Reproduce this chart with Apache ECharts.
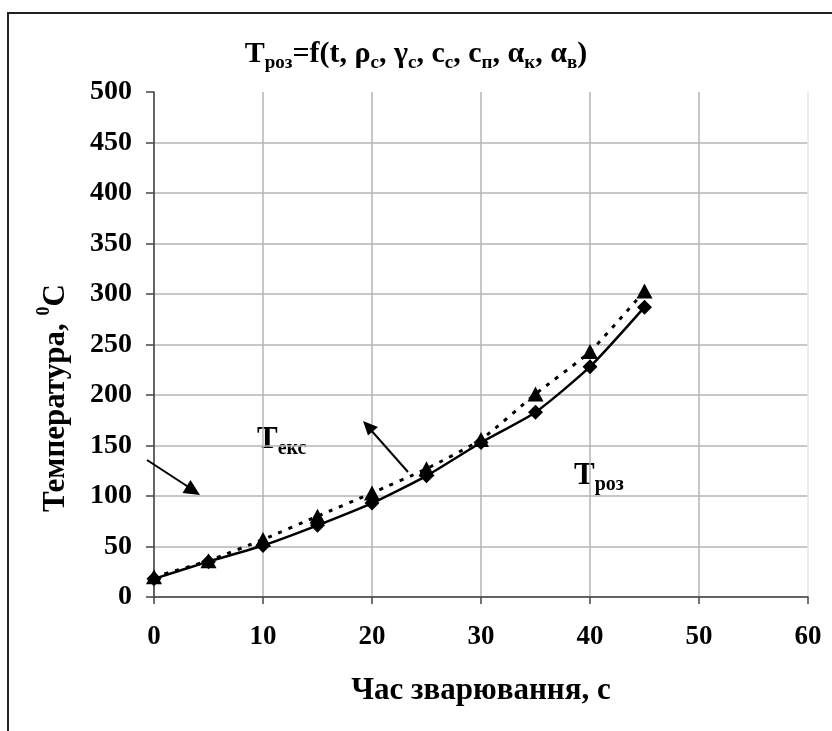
<!DOCTYPE html>
<html>
<head>
<meta charset="utf-8">
<script src="https://cdn.jsdelivr.net/npm/echarts@6/dist/echarts.min.js"></script>
<style>html,body{margin:0;padding:0;background:#fff;}#c{width:832px;height:731px;}</style>
</head>
<body>
<div id="c"></div>
<script>
const timeValues = [0, 5, 10, 15, 20, 25, 30, 35, 40, 45];
const tRoz = [18, 35, 51, 71, 93, 120, 153, 183, 228, 287];
const tEks = [20, 36, 57, 80, 103, 127, 156, 201, 243, 303];
const xTicks = [0, 10, 20, 30, 40, 50, 60];
const yTicks = [0, 50, 100, 150, 200, 250, 300, 350, 400, 450, 500];

const FONT = '"Liberation Serif", "Times New Roman", serif';
const chart = echarts.init(document.getElementById('c'));

function pairs(xs, ys) { return xs.map((x, i) => [x, ys[i]]); }

const subMain = { fontFamily: FONT, fontWeight: 'bold', fontSize: 30, color: '#000', verticalAlign: 'bottom', lineHeight: 34, padding: [0, 0, 4, 0] };
const subSmall = { fontFamily: FONT, fontWeight: 'bold', fontSize: 19, color: '#000', verticalAlign: 'bottom', lineHeight: 34 };

const option = {
  backgroundColor: '#fff',
  animation: false,
  title: {
    left: 'center',
    top: 34,
    text: '{m|T}{s|роз}{m|=f(t, ρ}{s|с}{m|, γ}{s|с}{m|, с}{s|с}{m|, с}{s|п}{m|, α}{s|к}{m|, α}{s|в}{m|)}',
    textStyle: { rich: { m: subMain, s: subSmall } }
  },
  grid: { left: 154, right: 24, top: 92, bottom: 134 },
  xAxis: {
    type: 'value', min: 0, max: 60, interval: 10,
    axisLine: { show: true, onZero: false, lineStyle: { color: '#444', width: 1.5 } },
    axisTick: { show: true, length: 7, lineStyle: { color: '#444', width: 1.5 } },
    axisLabel: { fontFamily: FONT, fontWeight: 'bold', fontSize: 27, color: '#000', margin: 27,
      formatter: v => xTicks.includes(v) ? String(v) : '' },
    splitLine: { show: true, lineStyle: { color: ['#b4b4b4','#b4b4b4','#b4b4b4','#b4b4b4','#b4b4b4','#b4b4b4','#e6e6e6'], width: 1.5 } },
    name: 'Час зварювання, с',
    nameLocation: 'middle',
    nameGap: 78,
    nameTextStyle: { fontFamily: FONT, fontWeight: 'bold', fontSize: 31, color: '#000' }
  },
  yAxis: {
    type: 'value', min: 0, max: 500, interval: 50,
    axisLine: { show: true, lineStyle: { color: '#444', width: 1.5 } },
    axisTick: { show: true, length: 8, lineStyle: { color: '#444', width: 1.5 } },
    axisLabel: { fontFamily: FONT, fontWeight: 'bold', fontSize: 28, color: '#000', margin: 22,
      formatter: v => yTicks.includes(v) ? String(v) : '' },
    splitLine: { show: true, showMaxLine: false, lineStyle: { color: '#b4b4b4', width: 1.5 } }
  },
  series: [
    {
      name: 'Tекс', type: 'line', data: pairs(timeValues, tEks),
      smooth: 0.2, symbol: 'triangle', symbolSize: [16, 15],
      itemStyle: { color: '#000' },
      lineStyle: { color: '#000', width: 3, type: [4, 7] },
      z: 3
    },
    {
      name: 'Tроз', type: 'line', data: pairs(timeValues, tRoz),
      smooth: 0.2, symbol: 'diamond', symbolSize: 15,
      itemStyle: { color: '#000' },
      lineStyle: { color: '#000', width: 2.5 },
      z: 4
    }
  ],
  graphic: [
    { type: 'rect', shape: { x: 8, y: 13, width: 1000, height: 1000 }, style: { fill: 'none', stroke: '#222', lineWidth: 2 }, z: 100 },
    {
      type: 'text', x: 53, y: 398, rotation: Math.PI / 2,
      style: {
        text: '{m|Температура, }{p|0}{m|C}',
        align: 'center', verticalAlign: 'middle',
        rich: {
          m: { fontFamily: FONT, fontWeight: 'bold', fontSize: 31, fill: '#000', verticalAlign: 'bottom', lineHeight: 36 },
          p: { fontFamily: FONT, fontWeight: 'bold', fontSize: 18, fill: '#000', verticalAlign: 'top', lineHeight: 36 }
        }
      }
    },
    {
      type: 'text', x: 257, y: 425,
      style: {
        text: '{m|T}{s|екс}',
        rich: {
          m: { fontFamily: FONT, fontWeight: 'bold', fontSize: 31, fill: '#000', verticalAlign: 'bottom', lineHeight: 34, padding: [0, 0, 4, 0] },
          s: { fontFamily: FONT, fontWeight: 'bold', fontSize: 20, fill: '#000', verticalAlign: 'bottom', lineHeight: 34 }
        }
      }
    },
    {
      type: 'text', x: 574, y: 461,
      style: {
        text: '{m|T}{s|роз}',
        rich: {
          m: { fontFamily: FONT, fontWeight: 'bold', fontSize: 31, fill: '#000', verticalAlign: 'bottom', lineHeight: 34, padding: [0, 0, 4, 0] },
          s: { fontFamily: FONT, fontWeight: 'bold', fontSize: 20, fill: '#000', verticalAlign: 'bottom', lineHeight: 34 }
        }
      }
    },
    { type: 'line', shape: { x1: 147, y1: 460, x2: 190, y2: 488 }, style: { stroke: '#000', lineWidth: 2 }, z: 50 },
    { type: 'polygon', shape: { points: [[200, 495], [182.5, 493], [190.5, 480]] }, style: { fill: '#000' }, z: 50 },
    { type: 'line', shape: { x1: 408, y1: 472, x2: 370, y2: 429 }, style: { stroke: '#000', lineWidth: 2 }, z: 50 },
    { type: 'polygon', shape: { points: [[363, 421], [378, 427], [368, 435.5]] }, style: { fill: '#000' }, z: 50 }
  ]
};
chart.setOption(option);
</script>
</body>
</html>
